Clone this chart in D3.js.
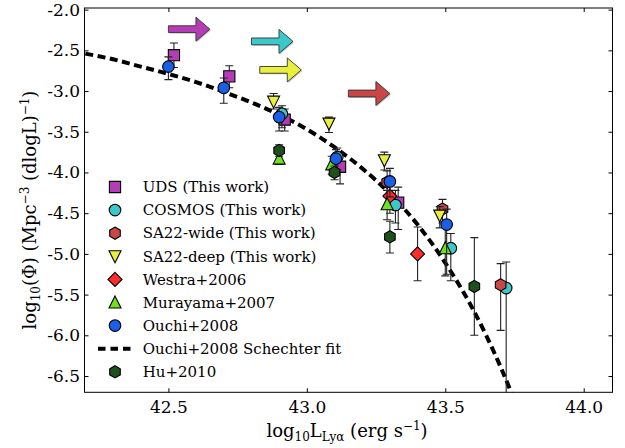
<!DOCTYPE html>
<html>
<head>
<meta charset="utf-8">
<script src="https://cdn.jsdelivr.net/npm/d3@7"></script>
<style>
  body { margin: 0; background: #fff; }
  text { font-family: "DejaVu Serif", "Liberation Serif", serif; fill: #000; }
</style>
</head>
<body>
<div id="chart"></div>
<script>
// tick labels
const xTicks = [42.5, 43.0, 43.5, 44.0];
const yTicks = [-2.0, -2.5, -3.0, -3.5, -4.0, -4.5, -5.0, -5.5, -6.0, -6.5];

// UDS (This work)
const udsX  = [42.52, 42.72, 42.92, 43.12, 43.33];
const udsY  = [-2.56, -2.82, -3.35, -3.93, -4.37];
const udsLo = [-2.71, -2.96, -3.49, -4.14, -4.70];
const udsHi = [-2.41, -2.69, -3.22, -3.77, -4.18];

// COSMOS (This work)
const cosX  = [42.91, 43.11, 43.32, 43.52, 43.72];
const cosY  = [-3.28, -3.81, -4.40, -4.93, -5.42];
const cosLo = [-3.45, -3.97, -4.62, -5.33, -7.00];
const cosHi = [-3.18, -3.70, -4.22, -4.75, -5.10];

// SA22-wide (This work)
const swX  = [43.29, 43.49, 43.70];
const swY  = [-4.12, -4.45, -5.38];
const swLo = [-4.30, -4.62, -5.94];
const swHi = [-3.98, -4.33, -5.12];

// SA22-deep (This work)
const sdX  = [42.88, 43.08, 43.28, 43.48];
const sdY  = [-3.13, -3.40, -3.85, -4.53];
const sdLo = [-3.22, -3.51, -3.97, -4.68];
const sdHi = [-3.03, -3.32, -3.75, -4.42];

// Westra+2006
const weX  = [43.30, 43.40];
const weY  = [-4.29, -5.00];
const weLo = [-4.50, -5.33];
const weHi = [-4.12, -4.67];

// Murayama+2007
const muX  = [42.90, 43.09, 43.29, 43.50];
const muY  = [-3.83, -3.90, -4.39, -4.93];
const muLo = [-3.90, -4.02, -4.58, -5.27];
const muHi = [-3.75, -3.80, -4.22, -4.62];

// Ouchi+2008
const ouX  = [42.50, 42.70, 42.90, 43.105, 43.30, 43.505];
const ouY  = [-2.70, -2.96, -3.32, -3.83, -4.11, -4.64];
const ouLo = [-2.86, -3.15, -3.49, -3.96, -4.30, -5.25];
const ouHi = [-2.58, -2.84, -3.20, -3.72, -3.95, -4.45];

// Hu+2010
const huX  = [42.90, 43.10, 43.30, 43.605];
const huY  = [-3.73, -4.00, -4.79, -5.40];
const huLo = [-3.80, -4.09, -4.99, -6.00];
const huHi = [-3.66, -3.92, -4.60, -4.80];

// Ouchi+2008 Schechter fit
const fitX = [42.2, 42.3, 42.4, 42.5, 42.6, 42.7, 42.8, 42.9, 43.0, 43.1, 43.2, 43.3, 43.4, 43.5, 43.6, 43.7, 43.75];
const fitY = [-2.54, -2.61, -2.70, -2.79, -2.89, -3.01, -3.14, -3.29, -3.47, -3.69, -3.95, -4.26, -4.64, -5.11, -5.68, -6.39, -6.80];

// lower-limit arrows (start x, y, length in dex)
const arrowX = [42.50, 42.80, 42.83, 43.15];
const arrowY = [-2.24, -2.39, -2.74, -3.03];
const arrowLen = [0.15, 0.15, 0.15, 0.15];
const arrowColor = ["#b43cb4", "#3cc8c8", "#e8f03c", "#c84646"];

const width = 625, height = 448;
const pLeft = 84.5, pRight = 612.5, pTop = 8, pBottom = 392.3;

const svg = d3.select("#chart").append("svg")
    .attr("width", width)
    .attr("height", height);

const x = d3.scaleLinear().domain([42.197, 44.104]).range([pLeft, pRight]);
const y = d3.scaleLinear().domain([-6.70, -1.98]).range([pBottom, pTop]);

svg.append("clipPath").attr("id", "clip")
  .append("rect")
    .attr("x", pLeft).attr("y", pTop)
    .attr("width", pRight - pLeft).attr("height", pBottom - pTop);

const plot = svg.append("g").attr("clip-path", "url(#clip)");

// marker shapes
function markerPath(shape) {
  if (shape === "square") return "M-5.6,-5.6H5.6V5.6H-5.6Z";
  if (shape === "circle") return "M5.8,0A5.8,5.8 0 1,1 -5.8,0A5.8,5.8 0 1,1 5.8,0Z";
  if (shape === "tdown") return "M-6,-5.5L6,-5.5L0,6.5Z";
  if (shape === "tup") return "M0,-6.5L6,5.5L-6,5.5Z";
  if (shape === "diamond") return "M0,-7L7,0L0,7L-7,0Z";
  if (shape === "hexagon") {
    const r = 6.1;
    const pts = d3.range(6).map(k => {
      const a = (-90 + k * 60) * Math.PI / 180;
      return [r * Math.cos(a), r * Math.sin(a)];
    });
    return "M" + pts.map(p => p[0].toFixed(2) + "," + p[1].toFixed(2)).join("L") + "Z";
  }
}

const series = [
  {name: "UDS (This work)", x: udsX, y: udsY, lo: udsLo, hi: udsHi, shape: "square", color: "#b43cb4"},
  {name: "COSMOS (This work)", x: cosX, y: cosY, lo: cosLo, hi: cosHi, shape: "circle", color: "#3cc8c8"},
  {name: "SA22-wide (This work)", x: swX, y: swY, lo: swLo, hi: swHi, shape: "hexagon", color: "#c84646"},
  {name: "SA22-deep (This work)", x: sdX, y: sdY, lo: sdLo, hi: sdHi, shape: "tdown", color: "#e8f03c"},
  {name: "Westra+2006", x: weX, y: weY, lo: weLo, hi: weHi, shape: "diamond", color: "#ff2b2b"},
  {name: "Murayama+2007", x: muX, y: muY, lo: muLo, hi: muHi, shape: "tup", color: "#6ee01e"},
  {name: "Ouchi+2008", x: ouX, y: ouY, lo: ouLo, hi: ouHi, shape: "circle", color: "#1a5fe6"},
  {name: "Ouchi+2008 Schechter fit", line: true},
  {name: "Hu+2010", x: huX, y: huY, lo: huLo, hi: huHi, shape: "hexagon", color: "#1e501e"}
];

// Schechter fit line
const fitLine = d3.line()
    .x((d, i) => x(fitX[i]))
    .y(d => y(d))
    .curve(d3.curveMonotoneX);

plot.append("path")
    .datum(fitY)
    .attr("d", fitLine)
    .attr("fill", "none")
    .attr("stroke", "#000")
    .attr("stroke-width", 4)
    .attr("stroke-dasharray", "8,4.5");

// error bars + markers
series.filter(s => !s.line).forEach(s => {
  const pts = s.x.map((v, i) => ({x: v, y: s.y[i], lo: s.lo[i], hi: s.hi[i]}));
  const g = plot.append("g");
  const eb = g.selectAll(".eb").data(pts).enter().append("g")
      .attr("stroke", "#222").attr("stroke-width", 1.1);
  eb.append("line")
      .attr("x1", d => x(d.x)).attr("x2", d => x(d.x))
      .attr("y1", d => y(d.lo)).attr("y2", d => y(d.hi));
  eb.append("line")
      .attr("x1", d => x(d.x) - 4).attr("x2", d => x(d.x) + 4)
      .attr("y1", d => y(d.lo)).attr("y2", d => y(d.lo));
  eb.append("line")
      .attr("x1", d => x(d.x) - 4).attr("x2", d => x(d.x) + 4)
      .attr("y1", d => y(d.hi)).attr("y2", d => y(d.hi));
  g.selectAll(".mk").data(pts).enter().append("path")
      .attr("d", markerPath(s.shape))
      .attr("transform", d => `translate(${x(d.x)},${y(d.y)})`)
      .attr("fill", s.color)
      .attr("stroke", "#000")
      .attr("stroke-width", 1.1);
});

// arrows
arrowX.forEach((ax, i) => {
  const x0 = x(ax), x1 = x(ax + arrowLen[i]), yc = y(arrowY[i]);
  const bw = 3.4, hw = 12, hl = 14;
  const pts = [[x0, yc - bw], [x1 - hl, yc - bw], [x1 - hl, yc - hw], [x1, yc],
               [x1 - hl, yc + hw], [x1 - hl, yc + bw], [x0, yc + bw]];
  plot.append("polygon")
      .attr("points", pts.map(p => p.join(",")).join(" "))
      .attr("transform", "translate(1,1)")
      .attr("fill", "#999").attr("opacity", 0.6);
  plot.append("polygon")
      .attr("points", pts.map(p => p.join(",")).join(" "))
      .attr("fill", arrowColor[i])
      .attr("stroke", "#333")
      .attr("stroke-width", 0.9);
});

// axes (ticks inside, all four sides)
svg.append("g")
    .attr("transform", `translate(0,${pBottom})`)
    .call(d3.axisBottom(x).tickValues(xTicks).tickSize(-4).tickPadding(9).tickFormat(d => d.toFixed(1)))
    .call(g => g.select(".domain").remove())
    .call(g => g.selectAll("text").attr("font-size", 17).attr("font-family", "DejaVu Serif"));

svg.append("g")
    .attr("transform", `translate(0,${pTop})`)
    .call(d3.axisTop(x).tickValues(xTicks).tickSize(-4).tickFormat(""))
    .call(g => g.select(".domain").remove());

svg.append("g")
    .attr("transform", `translate(${pLeft},0)`)
    .call(d3.axisLeft(y).tickValues(yTicks).tickSize(-4).tickPadding(4.5).tickFormat(d => d.toFixed(1)))
    .call(g => g.select(".domain").remove())
    .call(g => g.selectAll("text").attr("font-size", 17).attr("font-family", "DejaVu Serif"));

svg.append("g")
    .attr("transform", `translate(${pRight},0)`)
    .call(d3.axisRight(y).tickValues(yTicks).tickSize(-4).tickFormat(""))
    .call(g => g.select(".domain").remove());

svg.append("rect")
    .attr("x", pLeft).attr("y", pTop)
    .attr("width", pRight - pLeft).attr("height", pBottom - pTop)
    .attr("fill", "none").attr("stroke", "#000").attr("stroke-width", 1);

// axis titles
const xt = svg.append("text")
    .attr("x", 347).attr("y", 437)
    .attr("text-anchor", "middle")
    .attr("font-size", 18);
xt.append("tspan").text("log");
xt.append("tspan").attr("font-size", 12).attr("dy", 4).text("10");
xt.append("tspan").attr("dy", -4).text("L");
xt.append("tspan").attr("font-size", 12).attr("dy", 4).text("Ly\u03b1");
xt.append("tspan").attr("dy", -4).text(" (erg s");
xt.append("tspan").attr("font-size", 12).attr("dy", -7).text("\u22121");
xt.append("tspan").attr("dy", 7).text(")");

const yt = svg.append("text")
    .attr("transform", "translate(36,210) rotate(-90)")
    .attr("text-anchor", "middle")
    .attr("font-size", 18);
yt.append("tspan").text("log");
yt.append("tspan").attr("font-size", 12).attr("dy", 4).text("10");
yt.append("tspan").attr("dy", -4).text("(\u03a6) (Mpc");
yt.append("tspan").attr("font-size", 12).attr("dy", -7).text("\u22123");
yt.append("tspan").attr("dy", 7).text(" (dlogL)");
yt.append("tspan").attr("font-size", 12).attr("dy", -7).text("\u22121");
yt.append("tspan").attr("dy", 7).text(")");

// legend
const legend = svg.append("g");
series.forEach((s, i) => {
  const ly = 187 + i * 23.1;
  if (s.line) {
    legend.append("line")
        .attr("x1", 98).attr("x2", 131).attr("y1", ly).attr("y2", ly)
        .attr("stroke", "#000").attr("stroke-width", 4)
        .attr("stroke-dasharray", "7.5,5");
  } else {
    legend.append("path")
        .attr("d", markerPath(s.shape))
        .attr("transform", `translate(115,${ly})`)
        .attr("fill", s.color)
        .attr("stroke", "#000")
        .attr("stroke-width", 1.1);
  }
  legend.append("text")
      .attr("x", 142.7).attr("y", ly)
      .attr("dy", "0.35em")
      .attr("font-size", 15)
      .text(s.name);
});
</script>
</body>
</html>
